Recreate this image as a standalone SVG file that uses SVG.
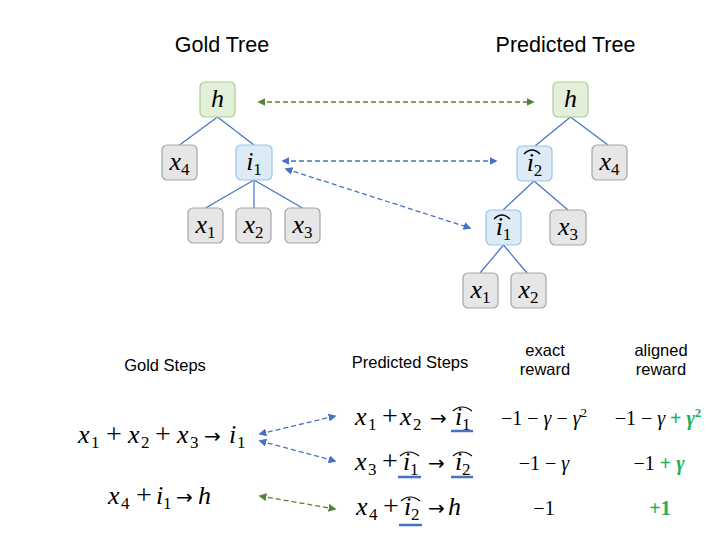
<svg xmlns="http://www.w3.org/2000/svg" width="724" height="546" viewBox="0 0 724 546">
<defs>
<style>
.title{font-family:"Liberation Sans",Arial,sans-serif;font-size:21.5px;fill:#000;text-anchor:middle}
.hdr{font-family:"Liberation Sans",Arial,sans-serif;font-size:16.5px;fill:#000;text-anchor:middle}
.m{font-family:"Liberation Serif","Times New Roman",serif;font-size:26px;fill:#000}
.v{font-style:italic}
.s{font-size:17px;font-style:normal}
.p{font-size:28px}
.a{font-family:"DejaVu Sans",sans-serif;font-size:20px}
.r{font-family:"Liberation Serif","Times New Roman",serif;font-size:20px;fill:#000;text-anchor:middle}
.g{fill:#20B05A;font-weight:bold}
.bg{fill:#E2EFDA;stroke:#A9D18E;stroke-width:1.2}
.bb{fill:#DDEBF7;stroke:#9DC3E6;stroke-width:1.2}
.bx{fill:#E7E6E6;stroke:#A6A6A6;stroke-width:1.2}
.edge{stroke:#4472C4;stroke-width:1.2;fill:none}
.hat{stroke:#000;stroke-width:1.2;fill:none}
.ul{stroke:#4472C4;stroke-width:2.5}
.dg{stroke:#548235;stroke-width:1.3;stroke-dasharray:5,3;fill:none;marker-start:url(#ag);marker-end:url(#ag)}
.db{stroke:#4472C4;stroke-width:1.3;stroke-dasharray:5,3;fill:none;marker-start:url(#ab);marker-end:url(#ab)}
</style>
<marker id="ag" viewBox="0 0 10 10" refX="8" refY="5" markerWidth="8" markerHeight="8" markerUnits="userSpaceOnUse" orient="auto-start-reverse"><path d="M0,0 L10,5 L0,10 z" fill="#548235"/></marker>
<marker id="ab" viewBox="0 0 10 10" refX="8" refY="5" markerWidth="8" markerHeight="8" markerUnits="userSpaceOnUse" orient="auto-start-reverse"><path d="M0,0 L10,5 L0,10 z" fill="#4472C4"/></marker>
</defs>
<rect width="724" height="546" fill="#fff"/>

<text class="title" x="222" y="52">Gold Tree</text>
<text class="title" x="565.5" y="52">Predicted Tree</text>

<g id="tree-edges">
<line class="edge" x1="217.5" y1="117" x2="179.5" y2="145"/>
<line class="edge" x1="217.5" y1="117" x2="254" y2="145"/>
<line class="edge" x1="254" y1="180" x2="205.5" y2="208"/>
<line class="edge" x1="254" y1="180" x2="254" y2="208"/>
<line class="edge" x1="254" y1="180" x2="302.5" y2="208"/>
<line class="edge" x1="570.5" y1="117" x2="535" y2="146"/>
<line class="edge" x1="570.5" y1="117" x2="608" y2="145"/>
<line class="edge" x1="534" y1="181" x2="503" y2="210"/>
<line class="edge" x1="534" y1="181" x2="568" y2="210"/>
<line class="edge" x1="503.5" y1="245" x2="480" y2="273"/>
<line class="edge" x1="503.5" y1="245" x2="527" y2="273"/>
</g>

<g id="gold-h"><rect class="bg" x="200" y="82" width="35" height="35" rx="5"/><text class="m v" x="217.5" y="107" text-anchor="middle">h</text></g>
<g id="gold-x4"><rect class="bx" x="162" y="145" width="35" height="35" rx="5"/><text class="m v" x="179.5" y="170" text-anchor="middle">x<tspan class="s" dy="5">4</tspan></text></g>
<g id="gold-i1"><rect class="bb" x="236" y="145" width="36" height="35" rx="5"/><text class="m v" x="254" y="170" text-anchor="middle">i<tspan class="s" dy="5">1</tspan></text></g>
<g id="gold-x1"><rect class="bx" x="188" y="208" width="35" height="35" rx="5"/><text class="m v" x="205.5" y="233" text-anchor="middle">x<tspan class="s" dy="5">1</tspan></text></g>
<g id="gold-x2"><rect class="bx" x="236" y="208" width="35" height="35" rx="5"/><text class="m v" x="253.5" y="233" text-anchor="middle">x<tspan class="s" dy="5">2</tspan></text></g>
<g id="gold-x3"><rect class="bx" x="285" y="208" width="35" height="35" rx="5"/><text class="m v" x="302.5" y="233" text-anchor="middle">x<tspan class="s" dy="5">3</tspan></text></g>

<g id="pred-h"><rect class="bg" x="553" y="82" width="35" height="35" rx="5"/><text class="m v" x="570.5" y="107" text-anchor="middle">h</text></g>
<g id="pred-i2"><rect class="bb" x="517" y="146" width="35" height="35" rx="5"/><text class="m v" x="534.5" y="171" text-anchor="middle">i<tspan class="s" dy="5">2</tspan></text><path class="hat" d="M524,154 Q532,146 540,154"/></g>
<g id="pred-x4"><rect class="bx" x="592" y="145" width="35" height="35" rx="5"/><text class="m v" x="609.5" y="170" text-anchor="middle">x<tspan class="s" dy="5">4</tspan></text></g>
<g id="pred-i1"><rect class="bb" x="486" y="210" width="35" height="35" rx="5"/><text class="m v" x="503.5" y="235" text-anchor="middle">i<tspan class="s" dy="5">1</tspan></text><path class="hat" d="M494,219 Q502,211 510,219"/></g>
<g id="pred-x3"><rect class="bx" x="550" y="210" width="36" height="35" rx="5"/><text class="m v" x="568" y="235" text-anchor="middle">x<tspan class="s" dy="5">3</tspan></text></g>
<g id="pred-x1"><rect class="bx" x="463" y="273" width="35" height="35" rx="5"/><text class="m v" x="480.5" y="298" text-anchor="middle">x<tspan class="s" dy="5">1</tspan></text></g>
<g id="pred-x2"><rect class="bx" x="511" y="273" width="35" height="35" rx="5"/><text class="m v" x="528.5" y="298" text-anchor="middle">x<tspan class="s" dy="5">2</tspan></text></g>

<g id="connectors">
<line class="dg" x1="259" y1="102" x2="533" y2="102"/>
<line class="db" x1="283" y1="161" x2="496" y2="161"/>
<line class="db" x1="286" y1="169" x2="470" y2="228"/>
<line class="db" x1="260" y1="434" x2="335" y2="416"/>
<line class="db" x1="260" y1="441" x2="335" y2="461"/>
<line class="dg" x1="260" y1="496" x2="335" y2="509"/>
</g>

<g id="headers">
<text class="hdr" x="165" y="371">Gold Steps</text>
<text class="hdr" x="410" y="368">Predicted Steps</text>
<text class="hdr" x="545" y="356">exact</text>
<text class="hdr" x="545" y="375">reward</text>
<text class="hdr" x="661" y="356">aligned</text>
<text class="hdr" x="661" y="375">reward</text>
</g>

<g id="gold-steps">
<text class="m" y="443"><tspan class="v" x="78">x</tspan><tspan class="s" x="91" dy="5">1</tspan><tspan class="p" x="106" dy="-5">+</tspan><tspan class="v" x="128">x</tspan><tspan class="s" x="141" dy="5">2</tspan><tspan class="p" x="155" dy="-5">+</tspan><tspan class="v" x="177">x</tspan><tspan class="s" x="190" dy="5">3</tspan><tspan class="a" x="204" dy="-5">→</tspan><tspan class="v" x="229">i</tspan><tspan class="s" x="237" dy="5">1</tspan></text>
<text class="m" y="504"><tspan class="v" x="108">x</tspan><tspan class="s" x="121" dy="5">4</tspan><tspan class="p" x="136" dy="-5">+</tspan><tspan class="v" x="156">i</tspan><tspan class="s" x="163" dy="5">1</tspan><tspan class="a" x="176" dy="-5">→</tspan><tspan class="v" x="198">h</tspan></text>
</g>

<g id="pred-steps">
<text class="m" y="425"><tspan class="v" x="355">x</tspan><tspan class="s" x="368" dy="5">1</tspan><tspan class="p" x="382" dy="-5">+</tspan><tspan class="v" x="400">x</tspan><tspan class="s" x="413" dy="5">2</tspan><tspan class="a" x="430" dy="-5">→</tspan><tspan class="v" x="455">i</tspan><tspan class="s" x="462" dy="5">1</tspan></text>
<path class="hat" d="M453,411 Q462,403 472,411"/>
<line class="ul" x1="451" y1="431" x2="473" y2="431"/>
<text class="m" y="470"><tspan class="v" x="355">x</tspan><tspan class="s" x="368" dy="5">3</tspan><tspan class="p" x="382" dy="-5">+</tspan><tspan class="v" x="403">i</tspan><tspan class="s" x="410" dy="5">1</tspan><tspan class="a" x="428" dy="-5">→</tspan><tspan class="v" x="455">i</tspan><tspan class="s" x="462" dy="5">2</tspan></text>
<path class="hat" d="M400,456 Q409,448 419,456"/>
<path class="hat" d="M453,456 Q462,448 472,456"/>
<line class="ul" x1="398" y1="477" x2="421" y2="477"/>
<line class="ul" x1="451" y1="477" x2="473" y2="477"/>
<text class="m" y="515"><tspan class="v" x="356">x</tspan><tspan class="s" x="369" dy="5">4</tspan><tspan class="p" x="383" dy="-5">+</tspan><tspan class="v" x="404">i</tspan><tspan class="s" x="411" dy="5">2</tspan><tspan class="a" x="428" dy="-5">→</tspan><tspan class="v" x="448">h</tspan></text>
<path class="hat" d="M401,501 Q410,493 420,501"/>
<line class="ul" x1="399" y1="525" x2="422" y2="525"/>
</g>

<g id="exact-rewards">
<text class="r" x="544" y="425">−1 − <tspan font-style="italic">γ</tspan> − <tspan font-style="italic">γ</tspan><tspan font-size="13" dy="-8">2</tspan></text>
<text class="r" x="544" y="470">−1 − <tspan font-style="italic">γ</tspan></text>
<text class="r" x="544" y="515">−1</text>
</g>

<g id="aligned-rewards">
<text class="r" x="658" y="425">−1 − <tspan font-style="italic">γ</tspan><tspan class="g"> + </tspan><tspan class="g" font-style="italic">γ</tspan><tspan class="g" font-size="13" dy="-8">2</tspan></text>
<text class="r" x="659" y="470">−1<tspan class="g"> + </tspan><tspan class="g" font-style="italic">γ</tspan></text>
<text class="r" x="660" y="515"><tspan class="g">+1</tspan></text>
</g>
</svg>
